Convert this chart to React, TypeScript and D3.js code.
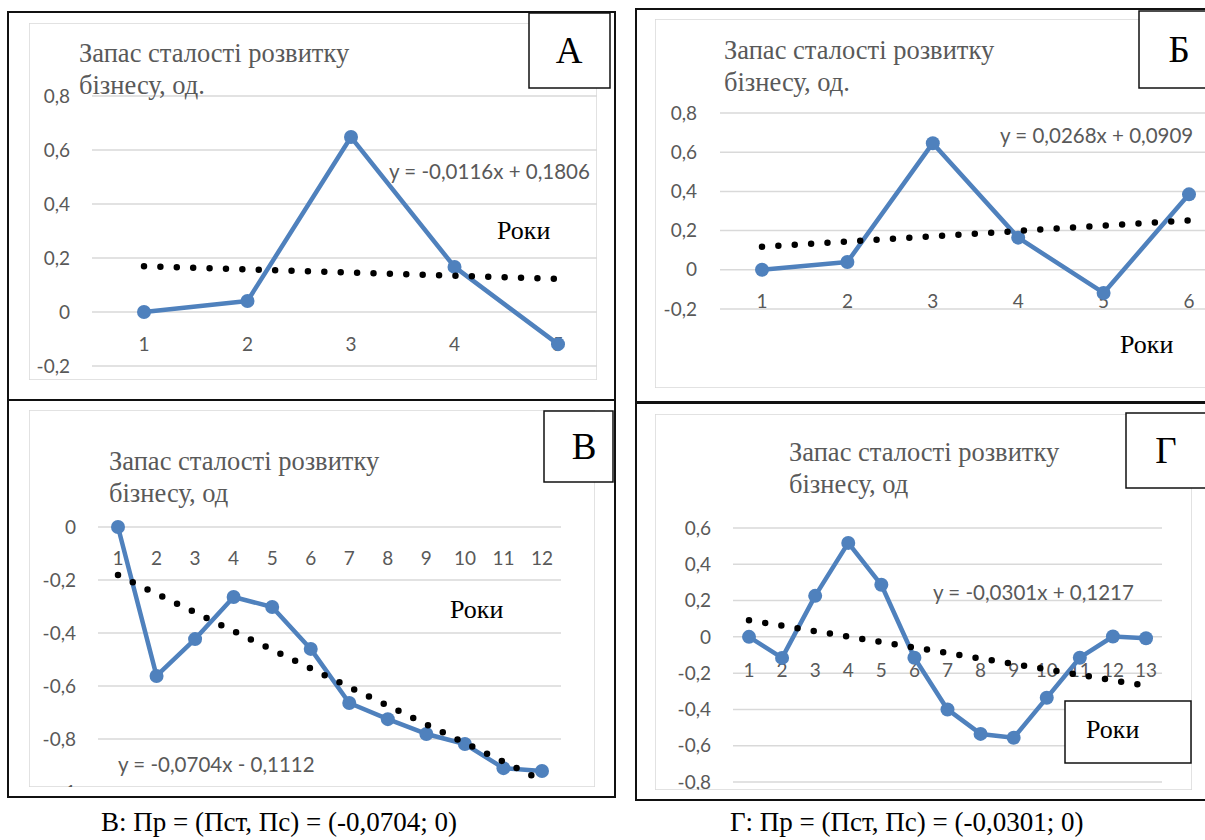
import React, { useEffect, useRef } from 'react';
import * as d3 from 'd3';

// values
const yearsA = [1, 2, 3, 4, 5];
const valuesA = [0, 0.041, 0.648, 0.167, -0.119];
const yTicksA = [-0.2, 0, 0.2, 0.4, 0.6, 0.8];
const trendA = { slope: -0.0116, intercept: 0.1806, label: 'y = -0,0116x + 0,1806' };

const yearsB = [1, 2, 3, 4, 5, 6];
const valuesB = [0, 0.04, 0.646, 0.164, -0.118, 0.385];
const yTicksB = [-0.2, 0, 0.2, 0.4, 0.6, 0.8];
const trendB = { slope: 0.0268, intercept: 0.0909, label: 'y = 0,0268x + 0,0909' };

const yearsV = [1, 2, 3, 4, 5, 6, 7, 8, 9, 10, 11, 12];
const valuesV = [0, -0.562, -0.423, -0.264, -0.302, -0.46, -0.664, -0.725, -0.781, -0.819, -0.91, -0.921];
const yTicksV = [-1, -0.8, -0.6, -0.4, -0.2, 0];
const trendV = { slope: -0.0704, intercept: -0.1112, label: 'y = -0,0704x - 0,1112' };

const yearsG = [1, 2, 3, 4, 5, 6, 7, 8, 9, 10, 11, 12, 13];
const valuesG = [0, -0.116, 0.226, 0.518, 0.287, -0.115, -0.4, -0.535, -0.556, -0.336, -0.115, 0.002, -0.008];
const yTicksG = [-0.8, -0.6, -0.4, -0.2, 0, 0.2, 0.4, 0.6];
const trendG = { slope: -0.0301, intercept: 0.1217, label: 'y = -0,0301x + 0,1217' };

const titleLine1 = 'Запас сталості розвитку';
const captionV = 'В: Пр = (Пст, Пс) = (-0,0704; 0)';
const captionG = 'Г: Пр = (Пст, Пс) = (-0,0301; 0)';

const panels = [
  {
    id: 'a', letter: 'А', years: yearsA, values: valuesA, yTicks: yTicksA, trend: trendA,
    title2: 'бізнесу, од.',
    frame: [8, 12, 607, 388], inner: [29, 23, 568, 357],
    xr: [144, 558], yr: [366, 96], grid: [92, 597], yLabelX: 70, tickY: 344,
    title: [79, 53], eq: [389, 172], roki: [497, 230], rokiBox: null,
    box: [529, 13, 81, 75],
  },
  {
    id: 'b', letter: 'Б', years: yearsB, values: valuesB, yTicks: yTicksB, trend: trendB,
    title2: 'бізнесу, од.',
    frame: [636, 9, 580, 393], inner: [655, 19, 560, 369],
    xr: [762, 1189], yr: [309, 113], grid: [720, 1205], yLabelX: 697, tickY: 301,
    title: [724, 50], eq: [1000, 136], roki: [1120, 344], rokiBox: null,
    box: [1139, 11, 80, 77],
  },
  {
    id: 'v', letter: 'В', years: yearsV, values: valuesV, yTicks: yTicksV, trend: trendV,
    title2: 'бізнесу, од',
    frame: [8, 400, 607, 397], inner: [29, 410, 566, 377],
    xr: [118, 542], yr: [792, 527], grid: [98, 561], yLabelX: 76, tickY: 558,
    title: [109, 461], eq: [118, 765], roki: [450, 609], rokiBox: null,
    box: [544, 411, 69, 71],
  },
  {
    id: 'g', letter: 'Г', years: yearsG, values: valuesG, yTicks: yTicksG, trend: trendG,
    title2: 'бізнесу, од',
    frame: [636, 403, 580, 397], inner: [655, 414, 537, 376],
    xr: [749, 1146], yr: [782, 528], grid: [733, 1162], yLabelX: 711, tickY: 670,
    title: [789, 452], eq: [933, 593], roki: [1086, 729], rokiBox: [1065, 701, 126, 62],
    box: [1126, 413, 90, 75],
  },
];

const BLUE = '#4f81bd';
const GRAY = '#595959';
const SANS = 'Lato, "Open Sans", sans-serif';
const SERIF = '"Liberation Serif", "Times New Roman", serif';
const fmt = (v: number) =>
  Number.isInteger(v) ? String(v) : d3.format('.1f')(v).replace('.', ',').replace('−', '-');

const App = () => {
  const ref = useRef<SVGSVGElement>(null);

  useEffect(() => {
    const svg = d3.select(ref.current);
    svg.selectAll('*').remove();

    panels.forEach(p => {
      const x = d3.scaleLinear().domain([p.years[0], p.years[p.years.length - 1]]).range(p.xr);
      const y = d3.scaleLinear().domain([p.yTicks[0], p.yTicks[p.yTicks.length - 1]]).range(p.yr);

      const [fx, fy, fw, fh] = p.frame;
      const [ix, iy, iw, ih] = p.inner;

      svg.append('clipPath').attr('id', `clip-${p.id}`)
        .append('rect').attr('x', fx).attr('y', fy).attr('width', fw).attr('height', fh);
      svg.append('clipPath').attr('id', `inner-${p.id}`)
        .append('rect').attr('x', ix).attr('y', iy).attr('width', iw).attr('height', ih);

      svg.append('rect')
        .attr('x', fx).attr('y', fy).attr('width', fw).attr('height', fh)
        .attr('fill', '#fff').attr('stroke', '#111').attr('stroke-width', 2);

      const g = svg.append('g').attr('clip-path', `url(#inner-${p.id})`);

      g.append('rect')
        .attr('x', ix).attr('y', iy).attr('width', iw).attr('height', ih)
        .attr('fill', 'none').attr('stroke', '#d9d9d9').attr('stroke-width', 1.5);

      // gridlines
      g.selectAll('line.grid')
        .data(p.yTicks)
        .join('line')
          .attr('class', 'grid')
          .attr('x1', p.grid[0]).attr('x2', p.grid[1])
          .attr('y1', d => y(d)).attr('y2', d => y(d))
          .attr('stroke', '#d9d9d9').attr('stroke-width', 1.5);

      g.selectAll('text.ylab')
        .data(p.yTicks)
        .join('text')
          .attr('class', 'ylab')
          .attr('x', p.yLabelX).attr('y', d => y(d))
          .attr('dy', '0.35em').attr('text-anchor', 'end')
          .attr('font-family', SANS).attr('font-size', 19).attr('fill', GRAY)
          .text(d => fmt(d));

      g.selectAll('text.xlab')
        .data(p.years)
        .join('text')
          .attr('class', 'xlab')
          .attr('x', d => x(d)).attr('y', p.tickY)
          .attr('dy', '0.35em').attr('text-anchor', 'middle')
          .attr('font-family', SANS).attr('font-size', 19).attr('fill', GRAY)
          .text(d => d);

      // title
      g.append('text')
        .attr('x', p.title[0]).attr('y', p.title[1]).attr('dy', '0.35em')
        .attr('font-family', SERIF).attr('font-size', 26.5).attr('fill', GRAY)
        .text(titleLine1);
      g.append('text')
        .attr('x', p.title[0]).attr('y', p.title[1] + 32).attr('dy', '0.35em')
        .attr('font-family', SERIF).attr('font-size', 26.5).attr('fill', GRAY)
        .text(p.title2);

      // data line
      const line = d3.line<number>().x((d, i) => x(p.years[i])).y(d => y(d));
      g.append('path')
        .attr('d', line(p.values))
        .attr('fill', 'none').attr('stroke', BLUE).attr('stroke-width', 4.5)
        .attr('stroke-linejoin', 'round');

      g.selectAll('circle.pt')
        .data(p.values)
        .join('circle')
          .attr('class', 'pt')
          .attr('cx', (d, i) => x(p.years[i])).attr('cy', d => y(d))
          .attr('r', 7).attr('fill', BLUE);

      // linear trend, dotted
      const x0 = p.years[0], x1 = p.years[p.years.length - 1];
      g.append('line')
        .attr('x1', x(x0)).attr('y1', y(p.trend.slope * x0 + p.trend.intercept))
        .attr('x2', x(x1)).attr('y2', y(p.trend.slope * x1 + p.trend.intercept))
        .attr('stroke', '#000').attr('stroke-width', 6.5)
        .attr('stroke-linecap', 'round').attr('stroke-dasharray', '0 16.4');

      g.append('text')
        .attr('x', p.eq[0]).attr('y', p.eq[1]).attr('dy', '0.35em')
        .attr('font-family', SANS).attr('font-size', 20.5).attr('fill', GRAY)
        .text(p.trend.label);

      if (p.rokiBox) {
        const [rx, ry, rw, rh] = p.rokiBox;
        g.append('rect')
          .attr('x', rx).attr('y', ry).attr('width', rw).attr('height', rh)
          .attr('fill', '#fff').attr('stroke', '#111').attr('stroke-width', 1.5);
      }
      g.append('text')
        .attr('x', p.roki[0]).attr('y', p.roki[1]).attr('dy', '0.35em')
        .attr('font-family', SERIF).attr('font-size', 26).attr('fill', '#000')
        .text('Роки');

      // letter box
      const [bx, by, bw, bh] = p.box;
      const lb = svg.append('g').attr('clip-path', `url(#clip-${p.id})`);
      lb.append('rect')
        .attr('x', bx).attr('y', by).attr('width', bw).attr('height', bh)
        .attr('fill', '#fff').attr('stroke', '#111').attr('stroke-width', 1.5);
      lb.append('text')
        .attr('x', bx + 40).attr('y', by + bh / 2).attr('dy', '0.35em')
        .attr('text-anchor', 'middle')
        .attr('font-family', SERIF).attr('font-size', 37).attr('fill', '#000')
        .text(p.letter);
    });

    svg.append('text')
      .attr('x', 101).attr('y', 822).attr('dy', '0.35em')
      .attr('font-family', SERIF).attr('font-size', 27).attr('fill', '#000')
      .text(captionV);
    svg.append('text')
      .attr('x', 730).attr('y', 822).attr('dy', '0.35em')
      .attr('font-family', SERIF).attr('font-size', 27).attr('fill', '#000')
      .text(captionG);
  }, []);

  return (
    <div style={{ position: 'absolute', left: 0, top: 0 }}>
      <svg ref={ref} width={1205} height={840} style={{ display: 'block', background: '#fff' }}></svg>
    </div>
  );
};

export default App;
